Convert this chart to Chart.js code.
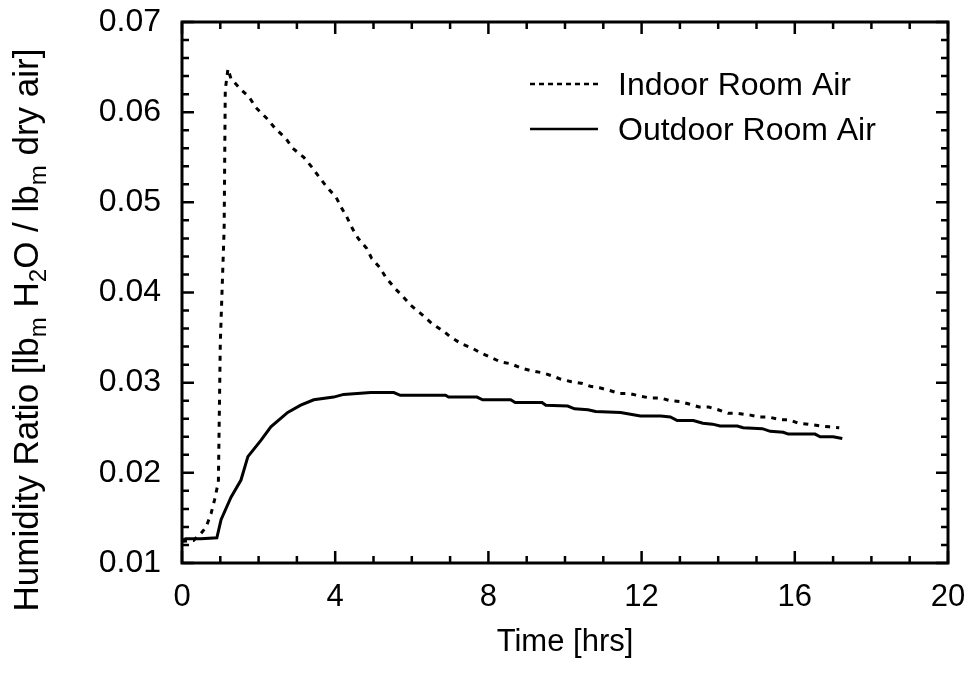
<!DOCTYPE html>
<html>
<head>
<meta charset="utf-8">
<script src="https://cdn.jsdelivr.net/npm/chart.js@4.4.1/dist/chart.umd.min.js"></script>
<style>
  html, body { margin: 0; padding: 0; background: #ffffff; }
  canvas { display: block; }
</style>
</head>
<body>
<canvas id="c" width="969" height="675"></canvas>
<script>
// ---- Data ----
const xTickValues = [0, 4, 8, 12, 16, 20];
const yTickValues = [0.01, 0.02, 0.03, 0.04, 0.05, 0.06, 0.07];

const indoorName = "Indoor Room Air";
const indoorT = [0, 0.3, 0.5, 0.63, 0.76, 0.85, 0.95, 1.0, 1.1, 1.13,
  1.2, 1.28, 1.54, 1.75, 1.93, 2.24, 2.43, 2.71, 2.89, 3.18,
  3.39, 3.6, 3.8, 4.02, 4.15, 4.3, 4.46, 4.6, 4.82, 4.95,
  5.16, 5.32, 5.55, 5.76, 5.97, 6.28, 6.54, 6.83, 7.0, 7.3,
  7.59, 7.8, 8.06, 8.32, 8.58, 8.87, 9.15, 9.41, 9.7, 9.88,
  10.17, 10.46, 10.66, 10.93, 11.19, 11.42, 11.68, 11.97, 12.23, 12.5,
  12.75, 13.0, 13.27, 13.5, 13.75, 14.0, 14.26, 14.5, 14.84, 15.05,
  15.3, 15.62, 15.85, 16.09, 16.35, 16.66, 16.9, 17.16];
const indoorV = [0.0124, 0.0125, 0.0133, 0.014, 0.0155, 0.017, 0.019, 0.0344, 0.047, 0.0625,
  0.0648, 0.0637, 0.0625, 0.0617, 0.0605, 0.0592, 0.0582, 0.0571, 0.056, 0.055,
  0.0539, 0.0527, 0.0516, 0.0506, 0.0495, 0.0484, 0.047, 0.046, 0.0449, 0.0438,
  0.0428, 0.0417, 0.0405, 0.0396, 0.0386, 0.0375, 0.0365, 0.0357, 0.0351, 0.0343,
  0.0338, 0.0333, 0.0328, 0.0323, 0.0321, 0.0316, 0.0313, 0.0311, 0.0307, 0.0304,
  0.0301, 0.0299, 0.0296, 0.0294, 0.0291, 0.0288, 0.0288, 0.0285, 0.0283, 0.0283,
  0.028, 0.0279, 0.0276, 0.0273, 0.0273, 0.027, 0.0266, 0.0266, 0.0264, 0.0262,
  0.0262, 0.0259, 0.0259, 0.0255, 0.0254, 0.0252, 0.0251, 0.025];

const outdoorName = "Outdoor Room Air";
const outdoorT = [0, 0.1, 0.5, 0.91, 1.02, 1.28, 1.54, 1.72, 2.06, 2.32,
  2.76, 3.1, 3.44, 3.96, 4.22, 4.93, 5.53, 5.7, 6.23, 6.88,
  6.96, 7.7, 7.85, 8.58, 8.7, 9.4, 9.5, 10.07, 10.25, 10.6,
  10.8, 11.45, 11.97, 12.5, 12.75, 12.93, 13.35, 13.6, 13.85, 14.05,
  14.5, 14.65, 15.15, 15.36, 15.7, 15.83, 16.53, 16.66, 17.0, 17.24];
const outdoorV = [0.0125, 0.0127, 0.0127, 0.0128, 0.0148, 0.0173, 0.0192, 0.0218, 0.0236, 0.0251,
  0.0267, 0.0275, 0.0281, 0.0284, 0.0287, 0.0289, 0.0289, 0.0286, 0.0286, 0.0286,
  0.0284, 0.0284, 0.0281, 0.0281, 0.0278, 0.0278, 0.0275, 0.0274, 0.0271, 0.027,
  0.0268, 0.0267, 0.0263, 0.0263, 0.0262, 0.0258, 0.0258, 0.0255, 0.0254, 0.0252,
  0.0252, 0.025, 0.0249, 0.0246, 0.0245, 0.0243, 0.0243, 0.024, 0.024, 0.0238];

const xTitle = "Time [hrs]";
// y title parts: [text, isSubscript]
const yTitleParts = [["Humidity Ratio [lb", false], ["m", true], [" H", false], ["2", true],
  ["O / lb", false], ["m", true], [" dry air]", false]];

// ---- Build ----
const FONT = "'Liberation Sans', Arial, Helvetica, sans-serif";
const toPts = (ts, vs) => ts.map((t, i) => ({ x: t, y: vs[i] }));

const framePlugin = {
  id: 'framePlugin',
  afterDatasetsDraw(chart) {
    const ctx = chart.ctx;
    const a = chart.chartArea;
    const xs = chart.scales.x, ys = chart.scales.y;
    ctx.save();
    ctx.strokeStyle = '#000';
    // ticks (inward, all four sides)
    ctx.lineWidth = 2.5;
    ctx.lineCap = 'butt';
    for (let v = 0; v <= 20; v += 1) {
      const px = xs.getPixelForValue(v);
      const len = (v % 4 === 0) ? 12 : 7;
      ctx.beginPath();
      ctx.moveTo(px, a.bottom); ctx.lineTo(px, a.bottom - len);
      ctx.moveTo(px, a.top); ctx.lineTo(px, a.top + len);
      ctx.stroke();
    }
    for (let k = 0; k <= 30; k++) {
      const v = 0.01 + k * 0.002;
      const py = ys.getPixelForValue(v);
      const len = (k % 5 === 0) ? 12 : 7;
      ctx.beginPath();
      ctx.moveTo(a.left, py); ctx.lineTo(a.left + len, py);
      ctx.moveTo(a.right, py); ctx.lineTo(a.right - len, py);
      ctx.stroke();
    }
    // frame
    ctx.lineWidth = 3;
    ctx.strokeRect(a.left, a.top, a.right - a.left, a.bottom - a.top);

    // legend
    const ds = chart.data.datasets;
    const rows = [95, 140];
    ctx.font = '32px ' + FONT;
    ctx.fillStyle = '#000';
    ctx.textBaseline = 'alphabetic';
    ctx.textAlign = 'left';
    ds.forEach((d, i) => {
      const ly = rows[i] - 11;
      ctx.beginPath();
      ctx.lineWidth = d.legendLineWidth;
      ctx.setLineDash(d.legendDash);
      ctx.moveTo(530, ly); ctx.lineTo(598, ly);
      ctx.stroke();
      ctx.setLineDash([]);
      ctx.fillText(d.label, 618, rows[i]);
    });

    // y title with subscripts
    const fs = 35, sub = 24;
    let total = 0;
    yTitleParts.forEach(([t, s]) => {
      ctx.font = (s ? sub : fs) + 'px ' + FONT;
      total += ctx.measureText(t).width;
    });
    ctx.translate(38, 330);
    ctx.rotate(-Math.PI / 2);
    let x = -total / 2;
    yTitleParts.forEach(([t, s]) => {
      ctx.font = (s ? sub : fs) + 'px ' + FONT;
      ctx.fillText(t, x, s ? 8 : 0);
      x += ctx.measureText(t).width;
    });
    ctx.restore();
  }
};

new Chart(document.getElementById('c'), {
  type: 'line',
  data: {
    datasets: [
      {
        label: indoorName,
        data: toPts(indoorT, indoorV),
        borderColor: '#000',
        borderWidth: 3,
        borderDash: [5, 6],
        legendDash: [5, 4],
        legendLineWidth: 2.5,
        pointRadius: 0,
        tension: 0,
        fill: false
      },
      {
        label: outdoorName,
        data: toPts(outdoorT, outdoorV),
        borderColor: '#000',
        borderWidth: 3,
        legendDash: [],
        legendLineWidth: 2.5,
        pointRadius: 0,
        tension: 0,
        fill: false
      }
    ]
  },
  options: {
    responsive: false,
    animation: false,
    devicePixelRatio: 1,
    layout: { padding: { top: 22, right: 21, left: 0, bottom: 0 } },
    plugins: { legend: { display: false }, tooltip: { enabled: false } },
    scales: {
      x: {
        type: 'linear',
        min: 0, max: 20,
        border: { display: false },
        grid: { display: false, drawTicks: false },
        afterFit(s) { s.height = 112; s.paddingLeft = 0; s.paddingRight = 0; },
        afterBuildTicks(s) { s.ticks = xTickValues.map(v => ({ value: v })); },
        ticks: {
          padding: 16,
          color: '#000',
          font: { family: FONT, size: 31 },
          maxRotation: 0,
          callback: v => String(v)
        },
        title: {
          display: true,
          text: xTitle,
          color: '#000',
          font: { family: FONT, size: 31 },
          padding: { top: 0, bottom: 14 }
        }
      },
      y: {
        type: 'linear',
        min: 0.01, max: 0.07,
        border: { display: false },
        grid: { display: false, drawTicks: false },
        afterFit(s) { s.width = 182; s.paddingTop = 0; s.paddingBottom = 0; },
        afterBuildTicks(s) { s.ticks = yTickValues.map(v => ({ value: v })); },
        ticks: {
          padding: 21,
          color: '#000',
          font: { family: FONT, size: 32 },
          callback: v => Number(v).toFixed(2)
        }
      }
    }
  },
  plugins: [framePlugin]
});
</script>
</body>
</html>
